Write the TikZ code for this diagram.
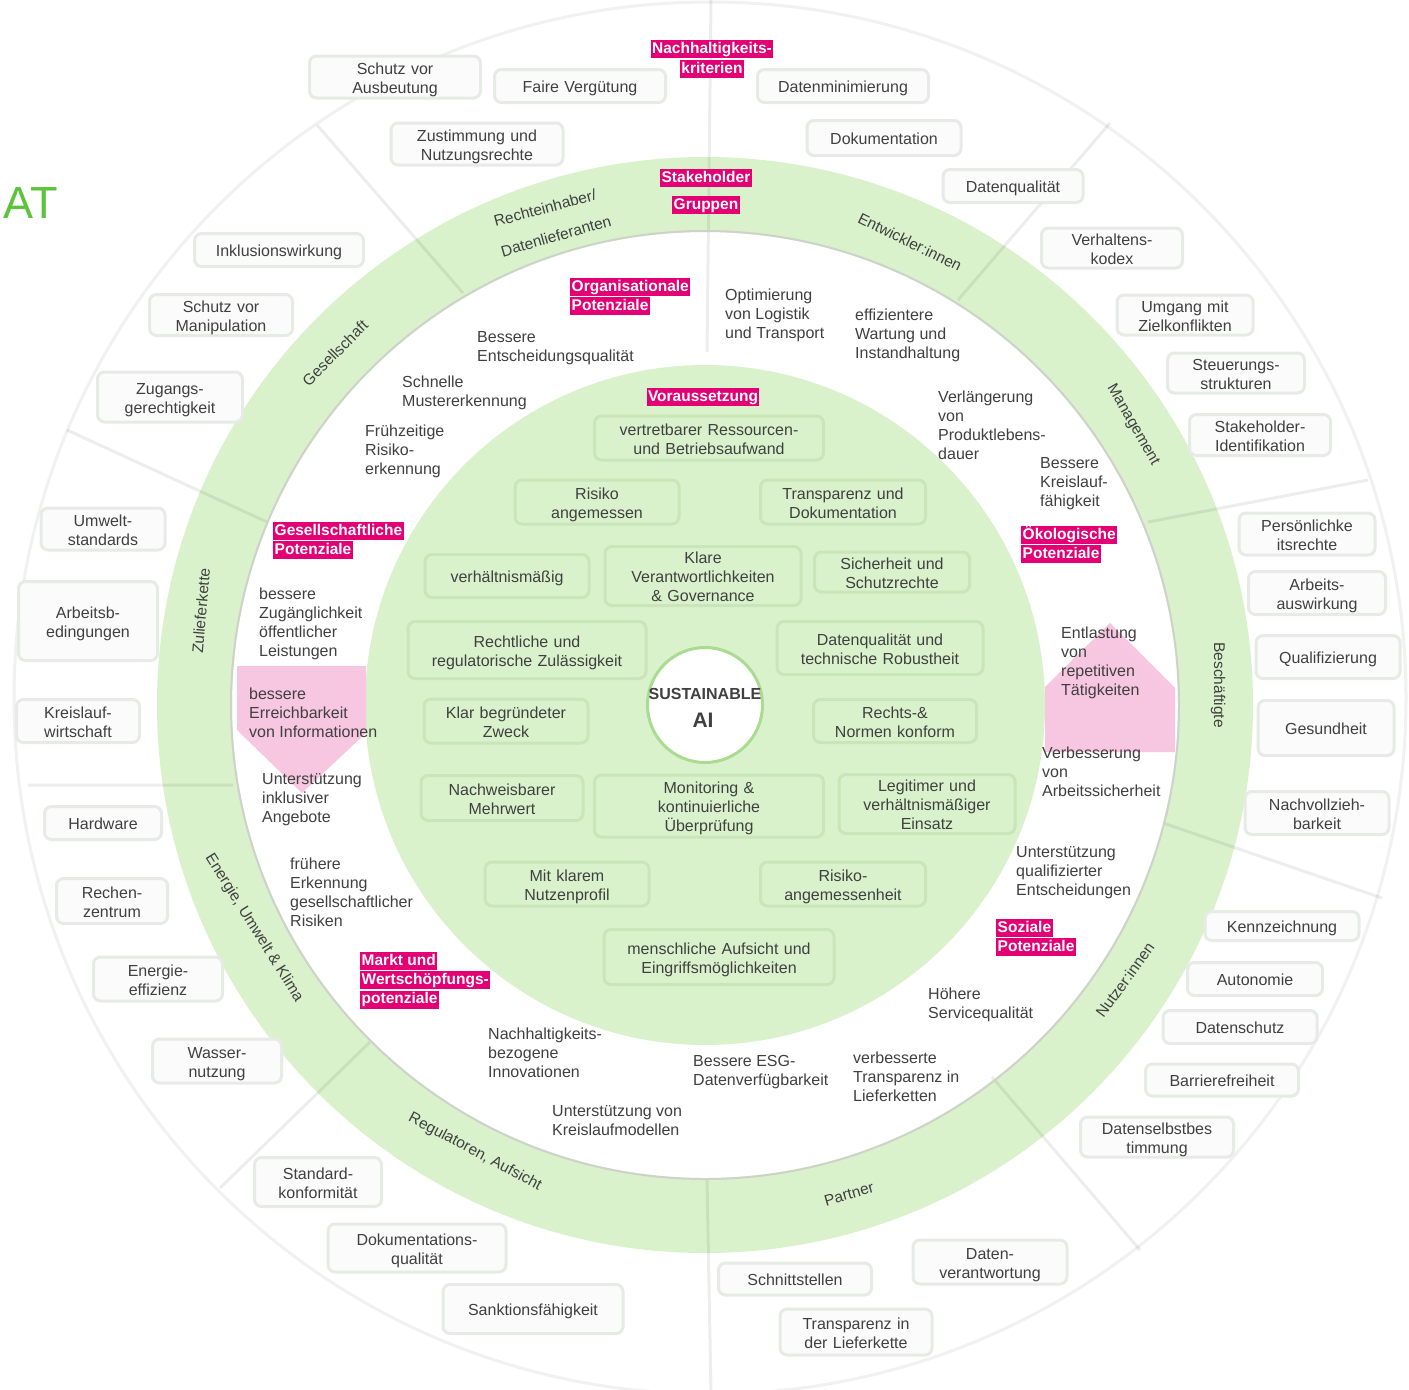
\documentclass[tikz,border=0pt]{standalone}
\usepackage{fontspec}
\setmainfont{Liberation Sans}
\usetikzlibrary{positioning}
\definecolor{tmagenta}{HTML}{E20074}
\definecolor{ringgreen}{HTML}{D9F2CC}
\definecolor{iboxline}{HTML}{C9E5B9}
\definecolor{oboxline}{HTML}{E6EBE6}
\definecolor{oboxfill}{HTML}{FAFBFA}
\definecolor{txt}{HTML}{404040}
\definecolor{pinkarea}{HTML}{F7C6E0}
\definecolor{atgreen}{HTML}{5BC43A}
\definecolor{hubline}{HTML}{A9DC92}
\definecolor{rimline}{HTML}{F1F1F1}
\definecolor{shadowline}{HTML}{CDD3C9}
\tikzset{
  obox/.style={draw=oboxline, fill=oboxfill, line width=3pt, rounded corners=7pt, align=center, inner sep=0pt,
    execute at begin node={\rule{0pt}{17pt}}, execute at end node={\rule[-4pt]{0pt}{4pt}}},
  ibox/.style={draw=iboxline, line width=3pt, rounded corners=7pt, align=center, inner sep=0pt,
    execute at begin node={\rule{0pt}{17pt}}, execute at end node={\rule[-4pt]{0pt}{4pt}}},
  tag/.style={fill=tmagenta, text=white, font=\fontsize{15.5}{19}\selectfont\bfseries, inner xsep=1.5pt, inner ysep=1.2pt, text height=12pt, text depth=3.5pt},
  note/.style={align=left, anchor=north west, inner sep=0pt},
  grp/.style={font=\fontsize{15.5}{18}\selectfont, inner sep=0pt},
  spokeline/.style={black, opacity=0.07, line width=3pt},
}

\begin{document}
\begin{tikzpicture}[x=1pt, y=-1pt, every node/.style={font=\fontsize{16}{19}\selectfont, text=txt}]
\useasboundingbox (0,0) rectangle (1409,1390);
\fill[white] (0,0) rectangle (1409,1390);
\coordinate (hub) at (705,705);

\draw[rimline, line width=3pt] (710,698) circle (696);
\fill[ringgreen, even odd rule] (hub) circle (548) (hub) circle (473);
\fill[ringgreen] (hub) circle (340);
\draw[spokeline] (711,0) -- (707,352) (317,125) -- (463,293) (1110,123) -- (958,300)
  (1368,480) -- (1148,522) (1163,823) -- (1382,898) (992,1077) -- (1140,1250)
  (707,1180) -- (711,1392) (220,1188) -- (370,1042) (28,785) -- (233,785) (67,430) -- (267,522);
\draw[shadowline, line width=2pt] (hub) circle (474);

\fill[pinkarea] (237,666) -- (366,666) -- (366,733) -- (302,793) -- (237,730) -- cycle;
\fill[pinkarea] (1045,752) -- (1045,687) -- (1110,623) -- (1175,688) -- (1175,752) -- cycle;

\node[circle, draw=hubline, fill=white, line width=3pt, minimum size=115pt, inner sep=0pt] (ai) at (hub) {};
\node[font=\fontsize{16}{19}\selectfont\bfseries] (sus) at (705,694) {SUSTAINABLE};
\node[font=\fontsize{21}{24}\selectfont\bfseries] (ail) at (703,720) {AI};

\node[font=\fontsize{45}{50}\selectfont, text=atgreen] (at) at (31,203) {AT};

\node[grp, rotate=45] (gs) at (335,353) {Gesellschaft};
\node[grp, rotate=15] (rd1) at (545,208) {Rechteinhaber/};
\node[grp, rotate=16] (rd2) at (556,236) {Datenlieferanten};
\node[grp, rotate=-26] (ew) at (910,242) {Entwickler:innen};
\node[grp, rotate=-60] (mg) at (1133,425) {Management};
\node[grp, rotate=-90] (bs) at (1218,685) {Beschäftigte};
\node[grp, rotate=54] (nu) at (1125,980) {Nutzer:innen};
\node[grp, rotate=16] (pa) at (849,1194) {Partner};
\node[grp, rotate=-28] (rg) at (475,1152) {Regulatoren, Aufsicht};
\node[grp, rotate=-58] (eu) at (254,928) {Energie, Umwelt \& Klima};
\node[grp, rotate=85] (zk) at (201,611) {Zulieferkette};

\node[obox, text width=171pt, minimum height=42pt] (sva) at (395,77) {Schutz vor\\Ausbeutung};
\node[obox, text width=171pt, minimum height=33pt] (fv) at (580,86) {Faire Vergütung};
\node[obox, text width=171pt, minimum height=33pt] (dm) at (843,86) {Datenminimierung};
\node[obox, text width=172pt, minimum height=42pt] (zn) at (477,144) {Zustimmung und\\Nutzungsrechte};
\node[obox, text width=154pt, minimum height=35pt] (dok) at (884,138) {Dokumentation};
\node[obox, text width=140pt, minimum height=33pt] (dq) at (1013,186) {Datenqualität};
\node[obox, text width=141pt, minimum height=38pt] (vk) at (1112,248) {Verhaltens-\\kodex};
\node[obox, text width=136pt, minimum height=33pt] (uz) at (1185,315) {Umgang mit\\Zielkonflikten};
\node[obox, text width=137pt, minimum height=34pt] (ss) at (1236,373) {Steuerungs-\\strukturen};
\node[obox, text width=141pt, minimum height=41pt] (si) at (1260,435) {Stakeholder-\\Identifikation};
\node[obox, text width=136pt, minimum height=42pt] (pr) at (1307,534) {Persönlichke\\itsrechte};
\node[obox, text width=137pt, minimum height=43pt] (aa) at (1317,593) {Arbeits-\\auswirkung};
\node[obox, text width=144pt, minimum height=43pt] (qu) at (1328,657) {Qualifizierung};
\node[obox, text width=136pt, minimum height=55pt] (ge) at (1326,728) {Gesundheit};
\node[obox, text width=144pt, minimum height=43pt] (nb) at (1317,813) {Nachvollzieh-\\barkeit};
\node[obox, text width=154pt, minimum height=29pt] (kz) at (1282,926) {Kennzeichnung};
\node[obox, text width=135pt, minimum height=33pt] (au) at (1255,979) {Autonomie};
\node[obox, text width=154pt, minimum height=33pt] (ds) at (1240,1027) {Datenschutz};
\node[obox, text width=153pt, minimum height=32pt] (bf) at (1222,1080) {Barrierefreiheit};
\node[obox, text width=153pt, minimum height=33pt] (dsb) at (1157,1137) {Datenselbstbes\\timmung};
\node[obox, text width=154pt, minimum height=44pt] (dv) at (990,1262) {Daten-\\verantwortung};
\node[obox, text width=153pt, minimum height=32pt] (sst) at (795,1279) {Schnittstellen};
\node[obox, text width=152pt, minimum height=46pt] (tl) at (856,1332) {Transparenz in\\der Lieferkette};
\node[obox, text width=180pt, minimum height=49pt] (sf) at (533,1309) {Sanktionsfähigkeit};
\node[obox, text width=178pt, minimum height=48pt] (dkq) at (417,1248) {Dokumentations-\\qualität};
\node[obox, text width=127pt, minimum height=49pt] (sk) at (318,1182) {Standard-\\konformität};
\node[obox, text width=129pt, minimum height=44pt] (wn) at (217,1061) {Wasser-\\nutzung};
\node[obox, text width=129pt, minimum height=44pt] (ee) at (158,979) {Energie-\\effizienz};
\node[obox, text width=111pt, minimum height=45pt] (rz) at (112,901) {Rechen-\\zentrum};
\node[obox, text width=117pt, minimum height=33pt] (hw) at (103,823) {Hardware};
\node[obox, text width=123pt, minimum height=43pt] (kw) at (78,721) {Kreislauf-\\wirtschaft};
\node[obox, text width=139pt, minimum height=79pt] (ab) at (88,621) {Arbeitsb-\\edingungen};
\node[obox, text width=124pt, minimum height=42pt] (us) at (103,529) {Umwelt-\\standards};
\node[obox, text width=145pt, minimum height=50pt] (zg) at (170,397) {Zugangs-\\gerechtigkeit};
\node[obox, text width=143pt, minimum height=41pt] (sm) at (221,315) {Schutz vor\\Manipulation};
\node[obox, text width=169pt, minimum height=33pt] (iw) at (279,250) {Inklusionswirkung};

\node[ibox, text width=229pt, minimum height=44pt] (vr) at (709,438) {vertretbarer Ressourcen-\\und Betriebsaufwand};
\node[ibox, text width=164pt, minimum height=44pt] (ra) at (597,502) {Risiko\\angemessen};
\node[ibox, text width=165pt, minimum height=44pt] (td) at (843,502) {Transparenz und\\Dokumentation};
\node[ibox, text width=164pt, minimum height=43pt] (vm) at (507,576) {verhältnismäßig};
\node[ibox, text width=196pt, minimum height=56pt] (kv) at (703,576) {Klare\\Verantwortlichkeiten\\\& Governance};
\node[ibox, text width=155pt, minimum height=38pt] (ssr) at (892,572) {Sicherheit und\\Schutzrechte};
\node[ibox, text width=238pt, minimum height=57pt] (rzl) at (527,650) {Rechtliche und\\regulatorische Zulässigkeit};
\node[ibox, text width=206pt, minimum height=53pt] (dtr) at (880,648) {Datenqualität und\\technische Robustheit};
\node[ibox, text width=164pt, minimum height=44pt] (kbz) at (506,721) {Klar begründeter\\Zweck};
\node[ibox, text width=163pt, minimum height=43pt] (rnk) at (895,721) {Rechts-\&\\Normen konform};
\node[ibox, text width=162pt, minimum height=45pt] (nm) at (502,798) {Nachweisbarer\\Mehrwert};
\node[ibox, text width=229pt, minimum height=62pt] (mku) at (709,806) {Monitoring \&\\kontinuierliche\\Überprüfung};
\node[ibox, text width=176pt, minimum height=55pt] (lve) at (927,804) {Legitimer und\\verhältnismäßiger\\Einsatz};
\node[ibox, text width=164pt, minimum height=44pt] (mkn) at (567,884) {Mit klarem\\Nutzenprofil};
\node[ibox, text width=165pt, minimum height=44pt] (ram) at (843,884) {Risiko-\\angemessenheit};
\node[ibox, text width=230pt, minimum height=55pt] (mae) at (719,957) {menschliche Aufsicht und\\Eingriffsmöglichkeiten};

\node[note] (opt) at (725,289) {Optimierung\\von Logistik\\und Transport};
\node[note] (eff) at (855,309) {effizientere\\Wartung und\\Instandhaltung};
\node[note] (bes) at (477,331) {Bessere\\Entscheidungsqualität};
\node[note] (sme) at (402,376) {Schnelle\\Mustererkennung};
\node[note] (fru) at (365,425) {Frühzeitige\\Risiko-\\erkennung};
\node[note] (vpl) at (938,391) {Verlängerung\\von\\Produktlebens-\\dauer};
\node[note] (bkf) at (1040,457) {Bessere\\Kreislauf-\\fähigkeit};
\node[note] (zol) at (259,588) {bessere\\Zugänglichkeit\\öffentlicher\\Leistungen};
\node[note] (evi) at (249,688) {bessere\\Erreichbarkeit\\von Informationen};
\node[note] (uia) at (262,773) {Unterstützung\\inklusiver\\Angebote};
\node[note] (fer) at (290,858) {frühere\\Erkennung\\gesellschaftlicher\\Risiken};
\node[note] (ert) at (1061,627) {Entlastung\\von\\repetitiven\\Tätigkeiten};
\node[note] (vas) at (1042,747) {Verbesserung\\von\\Arbeitssicherheit};
\node[note] (uqe) at (1016,846) {Unterstützung\\qualifizierter\\Entscheidungen};
\node[note] (hsq) at (928,988) {Höhere\\Servicequalität};
\node[note] (vtl) at (853,1052) {verbesserte\\Transparenz in\\Lieferketten};
\node[note] (esg) at (693,1055) {Bessere ESG-\\Datenverfügbarkeit};
\node[note] (nbi) at (488,1028) {Nachhaltigkeits-\\bezogene\\Innovationen};
\node[note] (ukm) at (552,1105) {Unterstützung von\\Kreislaufmodellen};

\node[tag] (nk1) at (712,49) {Nachhaltigkeits-};
\node[tag, below=2pt of nk1] (nk2) {kriterien};
\node[tag] (sg1) at (706,178) {Stakeholder};
\node[tag] (sg2) at (706,205) {Gruppen};
\node[tag, anchor=west] (op1) at (570,287) {Organisationale};
\node[tag, below=1pt of op1.south west, anchor=north west] (op2) {Potenziale};
\node[tag] (vo) at (703,397) {Voraussetzung};
\node[tag, anchor=west] (gp1) at (273,531) {Gesellschaftliche};
\node[tag, below=1pt of gp1.south west, anchor=north west] (gp2) {Potenziale};
\node[tag, anchor=west] (ok1) at (1021,535) {Ökologische};
\node[tag, below=1pt of ok1.south west, anchor=north west] (ok2) {Potenziale};
\node[tag, anchor=west] (so1) at (996,928) {Soziale};
\node[tag, below=1pt of so1.south west, anchor=north west] (so2) {Potenziale};
\node[tag, anchor=west] (mw1) at (360,961) {Markt und};
\node[tag, below=1pt of mw1.south west, anchor=north west] (mw2) {Wertschöpfungs-};
\node[tag, below=1pt of mw2.south west, anchor=north west] (mw3) {potenziale};
\end{tikzpicture}
\end{document}
